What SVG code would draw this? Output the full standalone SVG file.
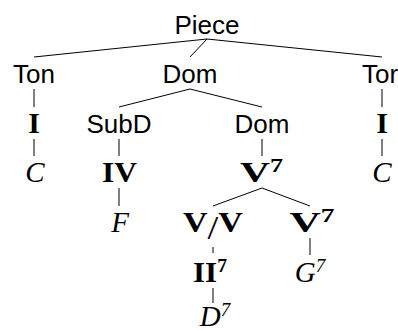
<svg xmlns="http://www.w3.org/2000/svg" width="398" height="332" viewBox="0 0 398 332">
<style>
.sf{font-family:"Liberation Sans",Arial,sans-serif;font-size:26px;fill:#000;text-anchor:middle}
.bf{font-family:"Liberation Serif","Times New Roman",serif;font-weight:bold;font-size:30px;fill:#000;text-anchor:middle}
.it{font-family:"Liberation Serif","Times New Roman",serif;font-style:italic;font-size:29px;fill:#000;text-anchor:middle}
.sup{font-size:19px}
.rm{font-weight:normal;font-size:34px}
.edge{stroke:#000;stroke-width:1;fill:none}
</style>
<rect width="398" height="332" fill="#fff"/>
<g id="connectors">
<path class="edge" d="M207,39 L34,57 M207,39 L190,57 M207,39 L382,57"/>
<path class="edge" d="M34,89 V107 M34,139 V156"/>
<path class="edge" d="M190,89 L119,107 M190,89 L262,107"/>
<path class="edge" d="M119,139 V156 M119,188 V206"/>
<path class="edge" d="M262,139 V156"/>
<path class="edge" d="M262,188 L213,206 M262,188 L310,206"/>
<path class="edge" d="M213,247 V253 M213,288 V303"/>
<path class="edge" d="M310,238 V255"/>
<path class="edge" d="M382,89 V107 M382,139 V156"/>
</g>
<g id="piece"><text class="sf" x="207" y="34">Piece</text></g>
<g id="ton1"><text class="sf" x="34" y="83">Ton</text></g>
<g id="dom1"><text class="sf" x="190" y="83">Dom</text></g>
<g id="ton2"><text class="sf" x="362" y="83" style="text-anchor:start">Tor</text></g>
<g id="i1"><text class="bf" x="34" y="133">I</text></g>
<g id="c1"><text class="it" x="35" y="182">C</text></g>
<g id="subd"><text class="sf" x="119" y="133">SubD</text></g>
<g id="dom2"><text class="sf" x="262" y="133">Dom</text></g>
<g id="i2"><text class="bf" x="382" y="133">I</text></g>
<g id="c2"><text class="it" x="382" y="182">C</text></g>
<g id="iv"><text class="bf" x="119.5" y="182" textLength="35" lengthAdjust="spacingAndGlyphs">IV</text></g>
<g id="f"><text class="it" x="120" y="232">F</text></g>
<g id="v7a"><text class="bf" x="261.5" y="182" textLength="43" lengthAdjust="spacingAndGlyphs">V<tspan class="sup" dy="-10">7</tspan></text></g>
<g id="vv"><text class="bf" x="213" y="232" textLength="60" lengthAdjust="spacingAndGlyphs">V<tspan class="rm" dy="7">/</tspan><tspan dy="-7">V</tspan></text></g>
<g id="v7b"><text class="bf" x="312" y="232" textLength="45" lengthAdjust="spacingAndGlyphs">V<tspan class="sup" dy="-10">7</tspan></text></g>
<g id="ii7"><text class="bf" x="210" y="282" textLength="34" lengthAdjust="spacingAndGlyphs">II<tspan class="sup" dy="-10">7</tspan></text></g>
<g id="g7"><text class="it" x="310" y="282">G<tspan class="sup" dy="-10">7</tspan></text></g>
<g id="d7"><text class="it" x="215" y="326">D<tspan class="sup" dy="-10">7</tspan></text></g>
</svg>
